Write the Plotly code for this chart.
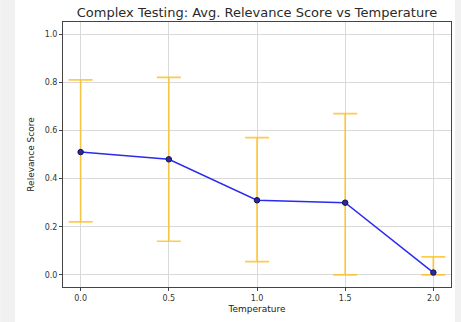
import plotly.graph_objects as go

temperature = [0.0, 0.5, 1.0, 1.5, 2.0]
avg_relevance = [0.51, 0.48, 0.31, 0.30, 0.01]
err_upper = [0.30, 0.34, 0.26, 0.37, 0.065]
err_lower = [0.29, 0.34, 0.255, 0.30, 0.01]

W, H = 461, 322
L, R, T, B = 63, 452, 22, 289
pw, ph = R - L, B - T

fig = go.Figure()
fig.add_trace(go.Scatter(
    x=temperature, y=avg_relevance, mode="lines+markers",
    line=dict(color="#2b2bf0", width=1.5),
    marker=dict(color="#2a2a9a", size=5.5, line=dict(color="#10105a", width=1)),
    error_y=dict(type="data", symmetric=False, array=err_upper, arrayminus=err_lower,
                 color="rgba(255,190,30,0.8)", thickness=1.7, width=12),
    showlegend=False,
))

def px2paper_x(px):
    return (px - L) / pw

def px2paper_y(py):
    return (B - py) / ph

fig.add_shape(type="rect", xref="paper", yref="paper", layer="below",
              x0=px2paper_x(0), x1=px2paper_x(15), y0=px2paper_y(W), y1=px2paper_y(-5),
              fillcolor="#f1f1f1", line=dict(width=0))
fig.add_shape(type="rect", xref="paper", yref="paper", layer="below",
              x0=px2paper_x(456), x1=px2paper_x(470), y0=px2paper_y(W), y1=px2paper_y(-5),
              fillcolor="#f1f1f1", line=dict(width=0))

axis_common = dict(
    showgrid=True, gridcolor="#d9d9d9", gridwidth=1,
    showline=True, linecolor="#444444", linewidth=1, mirror=True,
    ticks="outside", ticklen=3, tickcolor="#444444",
    tickfont=dict(family="DejaVu Sans", size=8, color="#333333"),
    zeroline=False,
)

fig.update_layout(
    width=W, height=H,
    margin=dict(l=L, r=W - R, t=T, b=H - B, pad=0),
    paper_bgcolor="white", plot_bgcolor="white",
    title=dict(text="Complex Testing: Avg. Relevance Score vs Temperature",
               x=(77 + 437) / 2 / W, xanchor="center", y=1 - 12 / H, yanchor="middle",
               font=dict(family="DejaVu Sans", size=13, color="#2a2a2a")),
    xaxis=dict(range=[-0.1, 2.1], tickvals=[0.0, 0.5, 1.0, 1.5, 2.0],
               ticktext=["0.0", "0.5", "1.0", "1.5", "2.0"],
               title=dict(text="Temperature", standoff=4,
                          font=dict(family="DejaVu Sans", size=9, color="#222222")),
               **axis_common),
    yaxis=dict(range=[-0.05, 1.05], tickvals=[0.0, 0.2, 0.4, 0.6, 0.8, 1.0],
               ticktext=["0.0", "0.2", "0.4", "0.6", "0.8", "1.0"],
               title=dict(text="Relevance Score", standoff=8,
                          font=dict(family="DejaVu Sans", size=9, color="#222222")),
               **axis_common),
)

fig.write_html("out.html")
